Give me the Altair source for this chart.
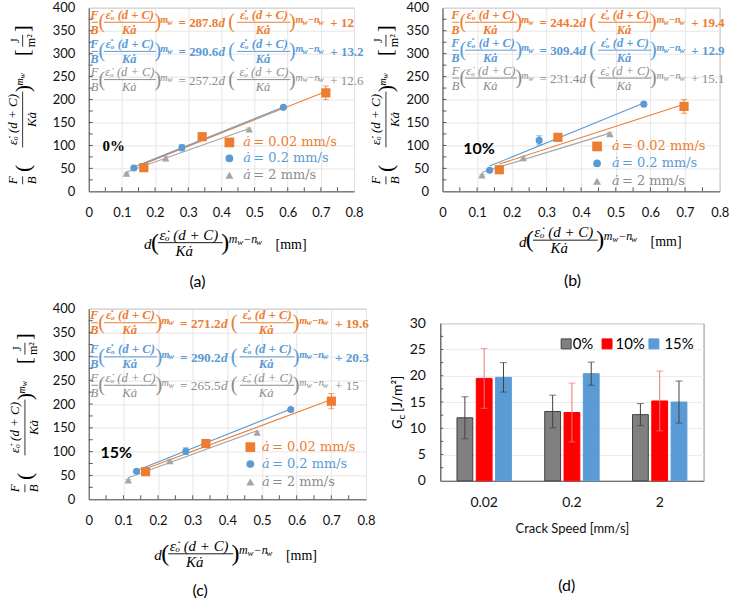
import altair as alt
import pandas as pd

# ---------------- data ----------------
speeds = ["0.02", "0.2", "2"]
point_speed = ["0.02", "0.02", "0.02", "0.2", "0.2", "0.2", "2", "2", "2"]
legend_values = ["= 0.02 mm/s", "= 0.2 mm/s", "= 2 mm/s"]

# (a) 0 %
pa_x = [0.166, 0.342, 0.715, 0.136, 0.281, 0.587, 0.114, 0.232, 0.484]
pa_y = [51.5, 119.0, 214.6, 50.7, 95.0, 183.0, 38.5, 72.0, 135.0]
pa_err = [3, 5, 15, 3, 7, 3, 2, 4, 3]
pa_slope = [287.8, 290.6, 257.2]
pa_icpt = [12, 13.2, 12.6]
pa_slope_txt = ["287.8", "290.6", "257.2"]
pa_icpt_txt = ["12", "13.2", "12.6"]

# (b) 10 %
pb_x = [0.164, 0.333, 0.697, 0.136, 0.279, 0.581, 0.114, 0.233, 0.483]
pb_y = [47.0, 117.6, 185.0, 45.8, 111.0, 190.0, 35.0, 72.7, 125.0]
pb_err = [3, 4, 15, 3, 10, 3, 2, 3, 3]
pb_slope = [244.2, 309.4, 231.4]
pb_icpt = [19.4, 12.9, 15.1]
pb_slope_txt = ["244.2", "309.4", "231.4"]
pb_icpt_txt = ["19.4", "12.9", "15.1"]

# (c) 15 %
pc_x = [0.164, 0.338, 0.700, 0.138, 0.280, 0.583, 0.114, 0.234, 0.486]
pc_y = [58.0, 117.0, 206.0, 58.6, 101.0, 188.5, 40.0, 80.0, 140.0]
pc_err = [3, 4, 16, 2, 7, 3, 2, 3, 3]
pc_slope = [271.2, 290.2, 265.5]
pc_icpt = [19.6, 20.3, 15]
pc_slope_txt = ["271.2", "290.2", "265.5"]
pc_icpt_txt = ["19.6", "20.3", "15"]

x_ticks = [0, 0.1, 0.2, 0.3, 0.4, 0.5, 0.6, 0.7, 0.8]
x_minor = [0.05, 0.1, 0.15, 0.2, 0.25, 0.3, 0.35, 0.4, 0.45, 0.5, 0.55, 0.6, 0.65, 0.7, 0.75]
y_ticks = [0, 50, 100, 150, 200, 250, 300, 350, 400]
y_minor = [25, 50, 75, 100, 125, 150, 175, 200, 225, 250, 275, 300, 325, 350, 375]

# (d) bars
groups = ["0%", "10%", "15%"]
bar_speed = ["0.02", "0.02", "0.02", "0.2", "0.2", "0.2", "2", "2", "2"]
bar_group = ["0%", "10%", "15%", "0%", "10%", "15%", "0%", "10%", "15%"]
bar_val = [12.0, 19.5, 19.7, 13.2, 13.0, 20.4, 12.6, 15.2, 15.0]
bar_err = [4.0, 5.7, 2.8, 3.1, 5.6, 2.2, 2.1, 5.7, 4.0]
d_y_ticks = [0, 5, 10, 15, 20, 25, 30]
d_y_minor = [2.5, 5, 7.5, 10, 12.5, 15, 17.5, 20, 22.5, 25, 27.5]

# ---------------- styles ----------------
SERIF = "Liberation Serif"
LSERIF = "DejaVu Serif"
SANS = "Lato"
series_colors = ["#ED7D31", "#5B9BD5", "#A5A5A5"]
text_colors = ["#ED7D31", "#5B9BD5", "#8C8C8C"]
shapes = ["square", "circle", "triangle-up"]
sizes = [85, 50, 55]
ONE = pd.DataFrame({"k": [0]})
NUM = "\u03b5\u0307\u2092 (d + C)"
DEN = "K\u0227"


def txt(s, x, y, size, color="#000000", font=SERIF, italic=False, bold=False,
        align="center", baseline="middle", angle=None, dx=None, dy=None, opacity=None):
    kw = dict(text=s, font=font, fontSize=size, color=color, align=align, baseline=baseline)
    if italic:
        kw["fontStyle"] = "italic"
    if bold:
        kw["fontWeight"] = "bold"
    if angle is not None:
        kw["angle"] = angle
    if dx:
        kw["dx"] = dx
    if dy:
        kw["dy"] = dy
    if opacity is not None:
        kw["opacity"] = opacity
    return alt.Chart(ONE).mark_text(**kw).encode(x=alt.value(x), y=alt.value(y))


def hrule(x1, x2, y, color, w=1.0):
    return alt.Chart(ONE).mark_rule(color=color, strokeWidth=w).encode(
        x=alt.value(x1), x2=alt.value(x2), y=alt.value(y))


def vrule(x, y1, y2, color, w=1.0):
    return alt.Chart(ONE).mark_rule(color=color, strokeWidth=w).encode(
        x=alt.value(x), y=alt.value(y1), y2=alt.value(y2))


def equation(x0, y0, color, bold, coef, icpt, s=1.0):
    L = []
    fs = 12.5

    def T(t, cx, cy, size, italic=True, align="center", b=None):
        L.append(txt(t, x0 + cx * s, y0 + cy * s, size * s, color, italic=italic,
                     bold=bold if b is None else b, align=align))

    def R(a, b):
        L.append(hrule(x0 + a * s, x0 + b * s, y0, color, 1.0))

    T("F", 3, -7.5, fs); T("B", 3, 7.5, fs); R(0, 6.5)
    T("(", 10.3, 0, 20, italic=False, b=False)
    T(NUM, 38.5, -7.5, fs); R(12.5, 64.5); T(DEN, 37.8, 7.5, fs)
    T(")", 66.5, 0, 20, italic=False, b=False)
    T("m", 69, -2, 10, align="left"); T("w", 76, 0.5, 8, align="left")
    T("= " + coef, 87.3, 1, 13, italic=False, align="left")
    T("d", 127.5, 1, 13, align="left")
    T("(", 140.5, 0, 20, italic=False, b=False)
    T(NUM, 173, -7.5, fs); R(146, 199.5); T(DEN, 172, 7.5, fs)
    T(")", 201.5, 0, 20, italic=False, b=False)
    T("m", 204.5, -2, 10, align="left"); T("w", 211.7, 0.5, 8, align="left")
    T("\u2212n", 217, -2, 10, align="left"); T("w", 227.6, 0.5, 8, align="left")
    T("+ " + icpt, 239.5, 1, 13, italic=False, align="left")
    return L


def ytitle(ax, ay):
    L = []
    fs = 13

    def T(t, along, perp, size, italic=True, align="center"):
        L.append(txt(t, ax, ay, size, "#000000", italic=italic, align=align,
                     angle=270, dx=along, dy=perp))

    def R(a1, a2):
        L.append(vrule(ax, ay - a1, ay - a2, "#000000", 0.8))

    T("F", 11, -9.5, fs); T("B", 11, 9.5, fs); R(7, 15)
    T("(", 23, 0, 22, italic=False)
    T(NUM, 72, -9.5, fs); R(44, 100); T(DEN, 72, 9.5, fs)
    T(")", 103, 0, 22, italic=False)
    T("m", 106, -3, 10, align="left"); T("w", 113.2, 0, 8, align="left")
    T("[", 139, 0, 20, italic=False)
    T("J", 151, -8, 12, italic=False); T("m\u00b2", 151, 8, 12, italic=False); R(145, 157)
    T("]", 163, 0, 20, italic=False)
    return L


def xtitle(ox, oy):
    L = []
    fs = 15
    L.append(txt("d", ox, oy + 1.5, fs, italic=True, align="left"))
    L.append(txt("(", ox + 11, oy, 24))
    L.append(txt(NUM, ox + 45, oy - 8, fs, italic=True))
    L.append(hrule(ox + 14, ox + 79, oy, "#000000", 0.9))
    L.append(txt(DEN, ox + 40.5, oy + 8, fs, italic=True))
    L.append(txt(")", ox + 81.5, oy, 24))
    L.append(txt("m", ox + 85, oy - 4, 12, italic=True, align="left"))
    L.append(txt("w", ox + 93.6, oy - 1, 9, italic=True, align="left"))
    L.append(txt("\u2212n", ox + 99.6, oy - 4, 12, italic=True, align="left"))
    L.append(txt("w", ox + 112.4, oy - 1, 9, italic=True, align="left"))
    L.append(txt("[mm]", ox + 132, oy + 2, 14, align="left"))
    return L


def legend(mx, tx, rows):
    L = []
    for i in range(3):
        L.append(alt.Chart(ONE).mark_point(filled=True, opacity=1, shape=shapes[i],
                                           size=sizes[i] + 10, color=series_colors[i]).encode(
            x=alt.value(mx), y=alt.value(rows[i])))
        L.append(txt("\u0227", tx, rows[i], 13, text_colors[i], font=LSERIF, italic=True, align="left"))
        L.append(txt(legend_values[i], tx + 10, rows[i], 13, text_colors[i], font=LSERIF, align="left"))
    return L


XS = alt.Scale(domain=[0, 0.8], nice=False, zero=False)
YS = alt.Scale(domain=[0, 400], nice=False)
COL = alt.Scale(domain=speeds, range=series_colors)
XAX = alt.Axis(values=x_ticks, format="~g", ticks=False, grid=True, gridColor="#e6e6e6",
               domainColor="#595959", labelFont=SANS, labelFontSize=13, labelPadding=15,
               labelColor="#111111", labelFlush=False, labelOverlap=False, title=None)
YAX = alt.Axis(values=y_ticks, ticks=False, grid=True, gridColor="#e6e6e6",
               domainColor="#595959", labelFont=SANS, labelFontSize=13, labelPadding=14,
               labelColor="#111111", labelOverlap=False, title=None)


def scatter_panel(px, py, perr, slope, icpt, W, H, deco):
    df = pd.DataFrame({"speed": point_speed, "x": px, "y": py, "err": perr})
    df["lo"] = df["y"] - df["err"]
    df["hi"] = df["y"] + df["err"]
    fit_rows = []
    for s, m, c in zip(speeds, slope, icpt):
        xs = df.loc[df["speed"] == s, "x"]
        for xv in (xs.min(), xs.max()):
            fit_rows.append({"speed": s, "x": xv, "y": m * xv + c})
    fit = pd.DataFrame(fit_rows)
    X = alt.X("x:Q", scale=XS, axis=XAX, title=None)
    Y = alt.Y("y:Q", scale=YS, axis=YAX, title=None)
    col = alt.Color("speed:N", scale=COL, legend=None)
    lines = alt.Chart(fit).mark_line(strokeWidth=1.1).encode(X, Y, color=col, detail="speed:N")
    ebars = alt.Chart(df).mark_rule(strokeWidth=1).encode(
        X, alt.Y("lo:Q", scale=YS, axis=YAX, title=None), y2="hi:Q", color=col)
    caps = alt.Chart(df).transform_fold(["lo", "hi"], as_=["k", "v"]).mark_tick(
        orient="horizontal", size=6, thickness=1).encode(
        X, alt.Y("v:Q", scale=YS, axis=YAX, title=None), color=col)
    pts = []
    for i, s in enumerate(speeds):
        pts.append(alt.Chart(df[df["speed"] == s]).mark_point(
            filled=True, opacity=1, shape=shapes[i], size=sizes[i], color=series_colors[i]).encode(X, Y))
    xt = alt.Chart(pd.DataFrame({"x": x_minor})).mark_rule(color="#595959").encode(
        X, y=alt.value(H), y2=alt.value(H - 4))
    yt = alt.Chart(pd.DataFrame({"y": y_minor})).mark_rule(color="#595959").encode(
        x=alt.value(0), x2=alt.value(4), y=Y)
    return alt.layer(lines, ebars, caps, *pts, xt, yt, *deco).properties(width=W, height=H)


def panel_deco(x0, y0s, s, slopes_t, icpts_t, ax, ay, ox, oy, pct, pct_xy, pct_font,
               lmx, ltx, lrows, lab, lab_xy, left_anchor=None):
    D = []
    bolds = [True, True, False]
    for i in range(3):
        D += equation(x0, y0s[i], text_colors[i], bolds[i], slopes_t[i], icpts_t[i], s)
    D += ytitle(ax, ay)
    D += xtitle(ox, oy)
    D.append(txt(pct, pct_xy[0], pct_xy[1], 16 if pct_font == SANS else 15, font=pct_font, bold=True))
    D += legend(lmx, ltx, lrows)
    D.append(txt(lab, lab_xy[0], lab_xy[1], 16, font=SANS))
    if left_anchor is not None:
        D.append(txt(".", left_anchor, ay + 30, 4, color="#ffffff", font=SANS, align="left"))
    return D


# (a) shares its left edge with (c) in the grid, so its plot is slightly narrower
pa = scatter_panel(pa_x, pa_y, pa_err, pa_slope, pa_icpt, 266, 184,
                   panel_deco(2.7, [14.5, 43.7, 72], 1.0, pa_slope_txt, pa_icpt_txt,
                              -66.3, 184, 55.3, 235.5, "0%", (25, 138.7), SERIF,
                              141, 155, [135, 151, 168], "(a)", (109, 275)))
pb = scatter_panel(pb_x, pb_y, pb_err, pb_slope, pb_icpt, 278, 184,
                   panel_deco(10, [14.5, 42.5, 70.5], 1.0, pb_slope_txt, pb_icpt_txt,
                              -56.7, 184, 76.6, 233, "10%", (36.6, 141.6), SANS,
                              155, 170, [139, 156, 174], "(b)", (130.3, 274)))
pc = scatter_panel(pc_x, pc_y, pc_err, pc_slope, pc_icpt, 278, 191,
                   panel_deco(2.5, [14, 48.2, 76.7], 1.02, pc_slope_txt, pc_icpt_txt,
                              -64, 191, 65.7, 245.7, "15%", (27.7, 144.7), SANS,
                              162, 173.7, [138.7, 155.7, 173.7], "(c)", (111.7, 283.4),
                              left_anchor=-88))

# ---------------- panel (d) ----------------
dd = pd.DataFrame({"speed": bar_speed, "group": bar_group, "val": bar_val, "err": bar_err})
dd["lo"] = dd["val"] - dd["err"]
dd["hi"] = dd["val"] + dd["err"]
DXS = alt.Scale(domain=speeds, paddingInner=0.38, paddingOuter=0.19)
DXO = alt.Scale(domain=groups, paddingInner=0.18, paddingOuter=0)
DYS = alt.Scale(domain=[0, 30], nice=False)
DXAX = alt.Axis(title="Crack Speed [mm/s]", labelAngle=0, ticks=False, domainColor="#595959",
                labelFont=SANS, labelFontSize=14, labelPadding=15, labelColor="#111111",
                titleFont=SANS, titleFontSize=13, titleFontWeight="normal", titlePadding=13,
                titleColor="#111111")
DYAX = alt.Axis(values=d_y_ticks, ticks=False, grid=True, gridColor="#ebebeb",
                domainColor="#595959", labelFont=SANS, labelFontSize=14, labelPadding=15,
                labelColor="#111111", title=None)
DX = alt.X("speed:N", scale=DXS, sort=speeds, axis=DXAX)
DXOFF = alt.XOffset("group:N", scale=DXO, sort=groups)
bars = alt.Chart(dd).mark_bar(strokeWidth=1).encode(
    DX, DXOFF,
    alt.Y("val:Q", scale=DYS, axis=DYAX),
    fill=alt.Fill("group:N", scale=alt.Scale(domain=groups, range=["#808080", "#FF0000", "#5B9BD5"]), legend=None),
    stroke=alt.Stroke("group:N", scale=alt.Scale(domain=groups, range=["#404040", "#FF0000", "#5B9BD5"]), legend=None),
)
ecolor = alt.condition(alt.datum.group == "10%", alt.value("#E8787A"), alt.value("#404040"))
d_err = alt.Chart(dd).mark_rule(strokeWidth=1).encode(
    DX, DXOFF, alt.Y("lo:Q", scale=DYS, axis=DYAX), y2="hi:Q", color=ecolor)
d_caps = alt.Chart(dd).transform_fold(["lo", "hi"], as_=["k", "v"]).mark_tick(
    orient="horizontal", size=7, thickness=1).encode(
    DX, DXOFF, alt.Y("v:Q", scale=DYS, axis=DYAX), color=ecolor)
d_yt = alt.Chart(pd.DataFrame({"val": d_y_minor})).mark_rule(color="#595959").encode(
    x=alt.value(0), x2=alt.value(3), y=alt.Y("val:Q", scale=DYS, axis=DYAX))

d_deco = []
leg_fill = ["#808080", "#FF0000", "#5B9BD5"]
leg_stroke = ["#404040", "#FF0000", "#5B9BD5"]
leg_sx = [126.2, 167.2, 214.2]
leg_tx = [132.7, 175.7, 224.7]
for i in range(3):
    d_deco.append(alt.Chart(ONE).mark_square(size=100, color=leg_fill[i], stroke=leg_stroke[i],
                                             strokeWidth=1, opacity=1).encode(
        x=alt.value(leg_sx[i]), y=alt.value(20.7)))
    d_deco.append(txt(groups[i], leg_tx[i], 20.7, 15, font=SANS, align="left"))
d_deco.append(txt("G", -42, 79, 14, font=SANS, italic=True, align="left", angle=270, dx=-27))
d_deco.append(txt("c", -42, 79, 10, font=SANS, align="left", angle=270, dx=-17.5, dy=3.5))
d_deco.append(txt("[J/m\u00b2]", -42, 79, 14, font=SANS, align="left", angle=270, dx=-10))
d_deco.append(txt("(d)", 126.7, 263.7, 16, font=SANS))

pd_ = alt.layer(bars, d_err, d_caps, d_yt, *d_deco).properties(width=264, height=158)

spacer = alt.Chart(ONE).mark_rule(opacity=0).encode(
    x=alt.value(0), x2=alt.value(1), y=alt.value(0)
).properties(width=264, height=1, view=alt.ViewBackground(stroke="transparent", strokeOpacity=0))

d_col = alt.vconcat(spacer, pd_, spacing=5.5)

chart = alt.concat(
    alt.hconcat(pa, pb, spacing=4.7),
    alt.hconcat(pc, d_col, spacing=14.5),
    columns=1,
    spacing=10.8,
    align="none",
).properties(
    padding={"left": 0, "top": 0, "right": 2, "bottom": 2},
    background="white",
).configure_view(stroke="#8c8c8c", strokeWidth=1)

chart.save("out.html", embed_options={"renderer": "svg", "actions": False})
